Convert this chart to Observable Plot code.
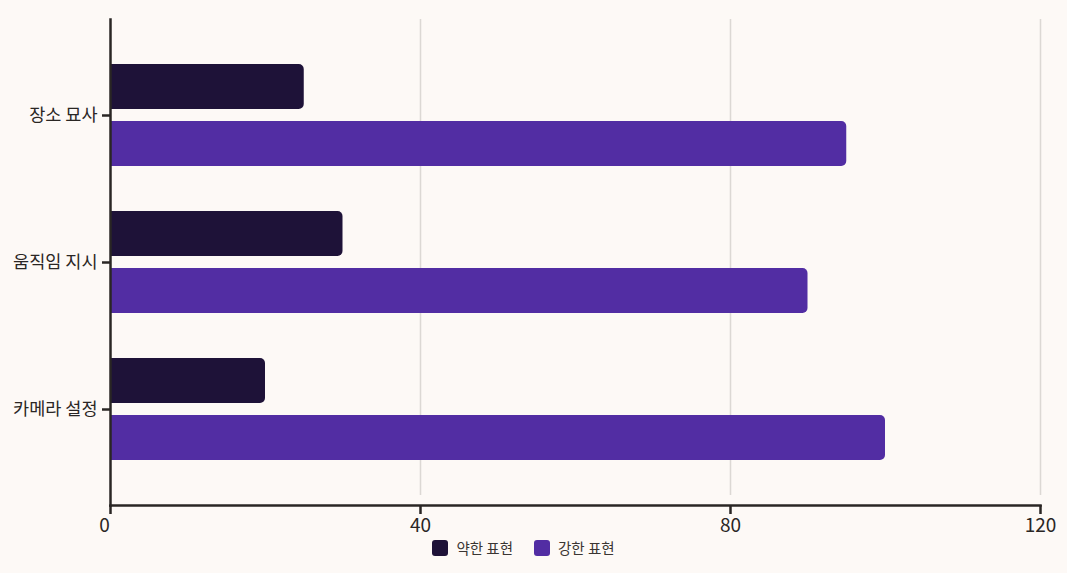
<!DOCTYPE html>
<html>
<head>
<meta charset="utf-8">
<script src="https://cdn.jsdelivr.net/npm/d3@7"></script>
<script src="https://cdn.jsdelivr.net/npm/@observablehq/plot@0.6"></script>
<style>
  html, body { margin: 0; padding: 0; background: #fdf9f6; }
  body { position: relative; width: 1067px; height: 573px; overflow: hidden; font-family: "Noto Sans CJK KR", "Noto Sans", sans-serif; }
  #legend { position: absolute; left: 0; top: 539px; display: flex; justify-content: center; align-items: center; gap: 21px; width: 1067px; padding-right: 20px; box-sizing: border-box; font-size: 14.5px; line-height: 18px; color: #3a3532; }
  #legend .item { display: flex; align-items: center; gap: 8px; }
  #legend .sw { width: 16px; height: 16px; border-radius: 3px; display: inline-block; }
</style>
</head>
<body>
<div id="chart"></div>
<div id="legend"></div>
<script>
const categories = ["장소 묘사", "움직임 지시", "카메라 설정"];
const seriesNames = ["약한 표현", "강한 표현"];
const weakValues = [25, 30, 20];
const strongValues = [95, 90, 100];
const xTicks = [0, 40, 80, 120];
const colors = ["#1e1238", "#522da3"];

const weak = categories.map((c, i) => ({category: c, value: weakValues[i]}));
const strong = categories.map((c, i) => ({category: c, value: strongValues[i]}));

const ink = "#2a2624";
const corner = {rx2: 5};

const chart = Plot.plot({
  width: 1067,
  height: 540,
  marginLeft: 110,
  marginRight: 27,
  marginTop: 19,
  marginBottom: 35,
  style: {background: "#fdf9f6", fontFamily: "'Noto Sans CJK KR', 'Noto Sans', sans-serif", color: ink},
  x: {domain: [0, 120]},
  y: {domain: categories, paddingInner: 0.3085, paddingOuter: 0.3017},
  marks: [
    Plot.ruleX(xTicks.slice(1), {stroke: "#dcd8d4", strokeWidth: 1.5, insetBottom: 10}),
    Plot.barX(weak, {x: "value", y: "category", fill: colors[0], insetBottom: 57, ...corner}),
    Plot.barX(strong, {x: "value", y: "category", fill: colors[1], insetTop: 57, ...corner}),
    Plot.frame({anchor: "left", stroke: ink, strokeWidth: 2.5}),
    Plot.frame({anchor: "bottom", stroke: ink, strokeWidth: 2.5}),
    Plot.axisY({tickSize: 8, tickPadding: 5, fontSize: 17.5, strokeWidth: 2.5, stroke: ink, label: null}),
    Plot.axisX({ticks: xTicks, tickSize: 9, text: null, strokeWidth: 2.5, stroke: ink, label: null}),
    Plot.axisX({ticks: xTicks.slice(1), tickSize: 9, tickPadding: 4, fontSize: 19, stroke: "none", label: null}),
    Plot.axisX({ticks: xTicks.slice(0, 1), tickSize: 9, tickPadding: 4, fontSize: 19, stroke: "none", dx: -6, label: null})
  ]
});
document.getElementById("chart").appendChild(chart);

const legend = document.getElementById("legend");
seriesNames.forEach((name, i) => {
  const item = document.createElement("div");
  item.className = "item";
  const sw = document.createElement("span");
  sw.className = "sw";
  sw.style.background = colors[i];
  const t = document.createElement("span");
  t.textContent = name;
  item.appendChild(sw);
  item.appendChild(t);
  legend.appendChild(item);
});
</script>
</body>
</html>
